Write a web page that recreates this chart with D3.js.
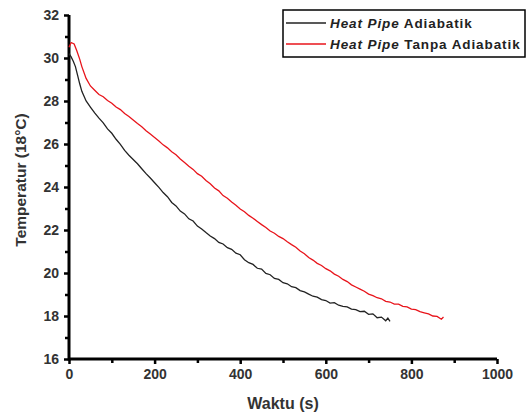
<!DOCTYPE html>
<html><head><meta charset="utf-8">
<script src="https://cdn.jsdelivr.net/npm/d3@7"></script>
<style>body{margin:0;background:#fff}svg{display:block}text{font-family:"Liberation Sans",Arial,sans-serif}</style>
</head><body><svg id="c" width="527" height="414"></svg>
<script>
const xTicks = [0,200,400,600,800,1000];
const yTicks = [16,18,20,22,24,26,28,30,32];
const seriesNames = ["Adiabatik","Tanpa Adiabatik"];
const blackData = [[0,30.2],[5,30.05],[10,29.85],[15,29.6],[20,29.2],[25,28.8],[30,28.45],[40,28.0],[50,27.72],[60,27.45],[70,27.2],[80,26.98],[90,26.7],[100,26.5],[110,26.22],[120,25.98],[130,25.7],[140,25.48],[150,25.28],[160,25.08],[170,24.85],[180,24.62],[190,24.42],[200,24.2],[210,23.98],[220,23.74],[230,23.55],[240,23.28],[250,23.12],[260,22.88],[270,22.75],[280,22.52],[290,22.42],[300,22.18],[310,22.05],[320,21.88],[330,21.72],[340,21.6],[350,21.42],[360,21.35],[370,21.18],[380,21.1],[390,20.92],[400,20.85],[410,20.62],[420,20.48],[430,20.4],[440,20.22],[450,20.18],[460,19.98],[470,19.92],[480,19.75],[490,19.7],[500,19.55],[510,19.5],[520,19.36],[530,19.32],[540,19.18],[550,19.12],[560,19.02],[570,18.92],[580,18.88],[590,18.76],[600,18.72],[610,18.6],[620,18.62],[630,18.5],[640,18.45],[650,18.42],[660,18.32],[670,18.3],[680,18.2],[690,18.22],[700,18.08],[710,18.1],[720,17.92],[730,17.95],[740,17.78],[745,17.9],[750,17.75]];
const redData = [[0,30.5],[5,30.72],[12,30.65],[18,30.35],[25,29.95],[30,29.6],[40,29.05],[50,28.7],[60,28.5],[70,28.3],[80,28.2],[90,28.02],[100,27.9],[110,27.72],[120,27.6],[130,27.42],[140,27.28],[150,27.12],[160,26.95],[170,26.8],[180,26.62],[190,26.46],[200,26.3],[210,26.14],[220,25.96],[230,25.82],[240,25.64],[250,25.5],[260,25.3],[270,25.14],[280,24.97],[290,24.82],[300,24.62],[310,24.5],[320,24.3],[330,24.15],[340,23.95],[350,23.82],[360,23.6],[370,23.48],[380,23.3],[390,23.15],[400,22.98],[410,22.85],[420,22.68],[430,22.55],[440,22.4],[450,22.25],[460,22.12],[470,21.95],[480,21.85],[490,21.7],[500,21.6],[510,21.45],[520,21.32],[530,21.2],[540,21.02],[550,20.9],[560,20.72],[570,20.6],[580,20.45],[590,20.35],[600,20.2],[610,20.1],[620,19.95],[630,19.85],[640,19.7],[650,19.6],[660,19.45],[670,19.35],[680,19.25],[690,19.15],[700,19.02],[710,18.95],[720,18.85],[730,18.8],[740,18.68],[750,18.65],[760,18.55],[770,18.55],[780,18.45],[790,18.42],[800,18.32],[810,18.3],[820,18.2],[830,18.15],[840,18.1],[850,18.0],[860,17.98],[870,17.85],[875,17.95]];

const svg = d3.select("#c");
const x = d3.scaleLinear().domain([0,1000]).range([69,497]);
const y = d3.scaleLinear().domain([16,32]).range([359,15]);
const FONT = "'Liberation Sans',Arial,sans-serif";

// minor ticks
const gx = svg.append("g").attr("transform","translate(0,359)");
gx.call(d3.axisBottom(x).tickValues(d3.range(100,1000,200)).tickSize(4).tickFormat(""));
const gx2 = svg.append("g").attr("transform","translate(0,359)");
gx2.call(d3.axisBottom(x).tickValues(xTicks).tickSize(5).tickPadding(5).tickFormat(d3.format("d")));
const gy = svg.append("g").attr("transform","translate(69,0)");
gy.call(d3.axisLeft(y).tickValues(d3.range(17,32,2)).tickSize(4).tickFormat(""));
const gy2 = svg.append("g").attr("transform","translate(69,0)");
gy2.call(d3.axisLeft(y).tickValues(yTicks).tickSize(5).tickPadding(5).tickFormat(d3.format("d")));
[gx,gx2,gy,gy2].forEach(g=>{
  g.select(".domain").remove();
  g.selectAll("line").attr("stroke","#000").attr("stroke-width",2.5);
  g.selectAll("text").attr("font-size",14).attr("font-weight","bold").attr("fill","#333").style("font-family",FONT);
});
// axis lines
svg.append("line").attr("x1",x(0)).attr("x2",x(1000)).attr("y1",y(16)).attr("y2",y(16)).attr("stroke","#000").attr("stroke-width",3);
svg.append("line").attr("x1",x(0)).attr("x2",x(0)).attr("y1",y(16)+1.5).attr("y2",y(32)).attr("stroke","#000").attr("stroke-width",3);

const line = d3.line().x(d=>x(d[0])).y(d=>y(d[1]));
svg.append("path").datum(blackData).attr("d",line).attr("fill","none").attr("stroke","#222").attr("stroke-width",1.3);
svg.append("path").datum(redData).attr("d",line).attr("fill","none").attr("stroke","#e8141b").attr("stroke-width",1.3);

// titles
svg.append("text").attr("x",283).attr("y",409).attr("text-anchor","middle").attr("font-size",16).attr("font-weight","bold").attr("fill","#333").text("Waktu (s)");
svg.append("text").attr("transform","translate(26,180) rotate(-90)").attr("text-anchor","middle").attr("font-size",15.5).attr("font-weight","bold").attr("fill","#333").text("Temperatur (18°C)");

// legend
const lg = svg.append("g");
lg.append("rect").attr("x",283).attr("y",10).attr("width",242).attr("height",47).attr("fill","#fff").attr("stroke","#000").attr("stroke-width",1.5);
const colors = ["#222","#e8141b"];
seriesNames.forEach((n,i)=>{
  const yy = 23 + i*21;
  lg.append("line").attr("x1",286).attr("x2",326).attr("y1",yy).attr("y2",yy).attr("stroke",colors[i]).attr("stroke-width",1.3);
  const t = lg.append("text").attr("x",330).attr("y",yy+5).attr("font-size",13.5).attr("font-weight","bold").attr("letter-spacing",0.9).attr("fill","#222");
  t.append("tspan").attr("font-style","italic").text("Heat Pipe");
  t.append("tspan").text(" "+n);
});
</script></body></html>
